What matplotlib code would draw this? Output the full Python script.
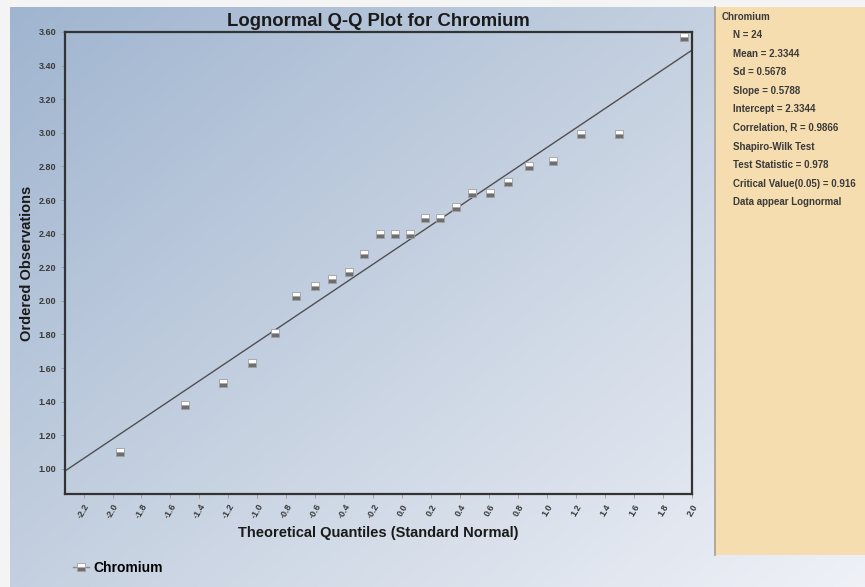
import numpy as np
import matplotlib.pyplot as plt
from matplotlib.colors import LinearSegmentedColormap
from matplotlib.lines import Line2D

# theoretical quantiles (standard normal) and ordered observations
quantiles = [-1.947, -1.499, -1.236, -1.038, -0.875, -0.732, -0.603, -0.484,
             -0.370, -0.261, -0.156, -0.052, 0.052, 0.156, 0.261, 0.370,
             0.484, 0.603, 0.732, 0.875, 1.038, 1.236, 1.499, 1.947]
observations = [1.10, 1.38, 1.51, 1.63, 1.81, 2.03, 2.09, 2.13,
                2.17, 2.28, 2.40, 2.40, 2.40, 2.49, 2.49, 2.56,
                2.64, 2.64, 2.71, 2.80, 2.83, 2.99, 2.99, 3.57]
slope = 0.5788
intercept = 2.3344

stats_lines = ["N = 24", "Mean = 2.3344", "Sd = 0.5678", "Slope = 0.5788",
               "Intercept = 2.3344", "Correlation, R = 0.9866",
               "Shapiro-Wilk Test", "Test Statistic = 0.978",
               "Critical Value(0.05) = 0.916", "Data appear Lognormal"]
xticks = [-2.2, -2.0, -1.8, -1.6, -1.4, -1.2, -1.0, -0.8, -0.6, -0.4, -0.2,
          0.0, 0.2, 0.4, 0.6, 0.8, 1.0, 1.2, 1.4, 1.6, 1.8, 2.0]
yticks = [1.00, 1.20, 1.40, 1.60, 1.80, 2.00, 2.20, 2.40, 2.60, 2.80,
          3.00, 3.20, 3.40, 3.60]

plt.rcParams['font.family'] = ['Liberation Sans', 'DejaVu Sans']

W, H = 865, 587
fig = plt.figure(figsize=(W / 100, H / 100), dpi=100)
fig.patch.set_facecolor('#f4f4f4')

# gradient background: dark blue top-left, pale bottom-right
bg = fig.add_axes([10 / W, 0, (W - 10) / W, (H - 7) / H])
cmap = LinearSegmentedColormap.from_list('bg', ['#a0b5d0', '#c8d3e2', '#eff1f7'])
gx, gy = np.meshgrid(np.linspace(0, 1, 300), np.linspace(0, 1, 200))
grad = gx * 0.55 + gy * 0.45
bg.imshow(grad, cmap=cmap, aspect='auto', extent=[0, 1, 0, 1], origin='upper')
bg.set_axis_off()

# stats panel
panel = fig.add_axes([715 / W, (H - 555) / H, (W - 715) / W, (555 - 7) / H])
panel.set_facecolor('#f6ddb0')
panel.set_xticks([])
panel.set_yticks([])
for s in ['top', 'right', 'bottom']:
    panel.spines[s].set_visible(False)
panel.spines['left'].set_color('#a89e8a')
panel.spines['left'].set_linewidth(1.2)

fig.text(722 / W, 1 - 17 / H, "Chromium", fontsize=7, fontweight='bold',
         color='#3a3a3a', va='center')
for i, line in enumerate(stats_lines):
    fig.text(733 / W, 1 - (35 + i * 18.6) / H, line, fontsize=7,
             fontweight='bold', color='#3a3a3a', va='center')

# main plot
ax = fig.add_axes([64.7 / W, (H - 494) / H, (692 - 64.7) / W, (494 - 32) / H])
ax.set_facecolor('none')
ax.set_xlim(-2.33, 2.0)
ax.set_ylim(0.85, 3.60)

xl = np.array(ax.get_xlim())
ax.plot(xl, intercept + slope * xl, color='#505050', lw=1.0, zorder=2)
ax.plot(quantiles, observations, linestyle='none', marker='s', markersize=5.5,
        fillstyle='bottom', markerfacecolor='#6e6e6e',
        markerfacecoloralt='white', markeredgecolor='#a0a0a0',
        markeredgewidth=0.6, zorder=3)

ax.set_xticks(xticks)
ax.set_xticklabels([f"{t:.1f}" for t in xticks], rotation=60, ha='right',
                   rotation_mode='anchor', fontsize=6.5, fontweight='bold',
                   color='#3a3a3a')
ax.set_yticks(yticks)
ax.set_yticklabels([f"{t:.2f}" for t in yticks], fontsize=6.5,
                   fontweight='bold', color='#3a3a3a')
ax.tick_params(length=3, width=0.6, color='#9a9a9a', pad=3)
for s in ax.spines.values():
    s.set_color('#333333')
    s.set_linewidth(1.6)

ax.set_title("Lognormal Q-Q Plot for Chromium", fontsize=13.3,
             fontweight='bold', color='#1a1a1a', pad=4)
ax.set_xlabel("Theoretical Quantiles (Standard Normal)", fontsize=10.5,
              fontweight='bold', color='#1a1a1a', labelpad=4)
ax.set_ylabel("Ordered Observations", fontsize=10.5, fontweight='bold',
              color='#1a1a1a', labelpad=3)

handle = Line2D([0], [0], color='#8a8a8a', lw=1.0, marker='s', markersize=5.5,
                fillstyle='bottom', markerfacecolor='#6e6e6e',
                markerfacecoloralt='white', markeredgecolor='#a0a0a0',
                markeredgewidth=0.6)
fig.legend([handle], ["Chromium"], loc='center left',
           bbox_to_anchor=(60 / W, 1 - 568 / H), frameon=False,
           handlelength=1.2, handletextpad=0.3,
           prop={'weight': 'bold', 'size': 10})

fig.savefig('out.png', dpi=100)
